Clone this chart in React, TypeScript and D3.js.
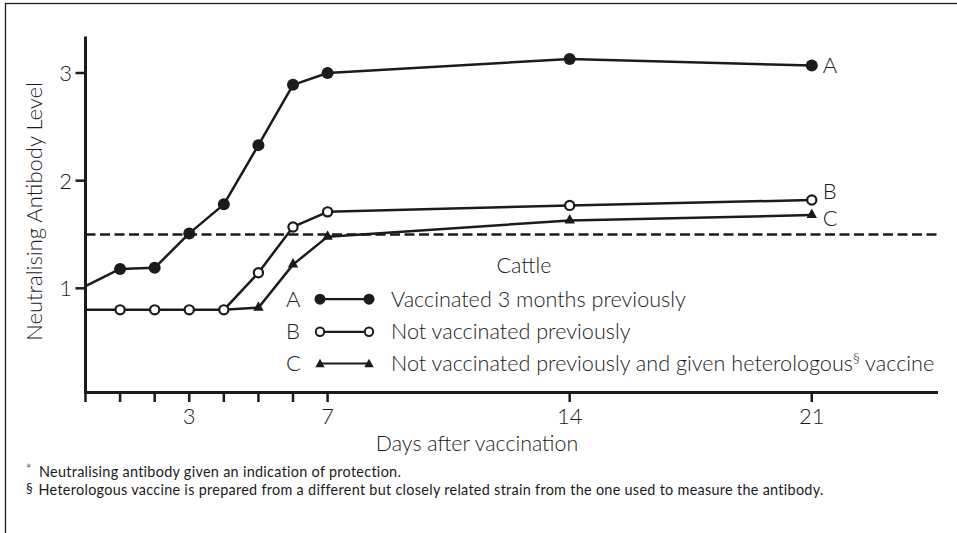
import React from "react";
import * as d3 from "d3";

const days = [0, 1, 2, 3, 4, 5, 6, 7, 14, 21];
const seriesA = [1.02, 1.18, 1.19, 1.51, 1.78, 2.33, 2.89, 3.0, 3.13, 3.07];
const seriesB = [0.8, 0.8, 0.8, 0.8, 0.8, 1.145, 1.57, 1.71, 1.77, 1.82];
const daysC = [4, 5, 6, 7, 14, 21];
const seriesC = [0.8, 0.82, 1.22, 1.48, 1.63, 1.68];
const protectionLevel = 1.5;
const xTickValues = [0, 1, 2, 3, 4, 5, 6, 7, 14, 21];
const xTickLabels = ["3", "7", "14", "21"];
const yTickValues = [1, 2, 3];
const legendTitle = "Cattle";
const legendKeys = ["A", "B", "C"];
const legendLabels = [
  "Vaccinated 3 months previously",
  "Not vaccinated previously",
  "Not vaccinated previously and given heterologous",
];
const yTitle = "Neutralising Antibody Level";
const xTitle = "Days after vaccination";
const footnote1 = "Neutralising antibody given an indication of protection.";
const footnote2 =
  "Heterologous vaccine is prepared from a different but closely related strain from the one used to measure the antibody.";

const W = 957;
const H = 533;
const FONT = "Lato, 'Open Sans', sans-serif";
const INK = "#1b1b1b";

const x = d3.scaleLinear().domain([0, 24.65]).range([85.5, 938]);
const y = d3.scaleLinear().domain([1, 3]).range([288.3, 73]);
const plotTop = 36.5;
const plotBottom = 392.5;

type Pt = { d: number; v: number };
const ptsA: Pt[] = days.map((d, i) => ({ d, v: seriesA[i] }));
const ptsB: Pt[] = days.map((d, i) => ({ d, v: seriesB[i] }));
const ptsC: Pt[] = daysC.map((d, i) => ({ d, v: seriesC[i] }));

const line = d3
  .line<Pt>()
  .x((p) => x(p.d))
  .y((p) => y(p.v));

function Tri({ cx, cy, s = 1 }: { cx: number; cy: number; s?: number }) {
  const w = 5.2 * s;
  const up = 6.5 * s;
  const dn = 3 * s;
  return (
    <path
      d={`M${cx},${cy - up}L${cx + w},${cy + dn}L${cx - w},${cy + dn}Z`}
      fill={INK}
    />
  );
}

export default function App() {
  const lastA = ptsA[ptsA.length - 1];
  const lastB = ptsB[ptsB.length - 1];
  const lastC = ptsC[ptsC.length - 1];
  const legX = 391;
  const legRows = [306.7, 339.3, 371];
  return (
    <svg
      width={W}
      height={H}
      style={{ position: "absolute", left: 0, top: 0, background: "#fff" }}
      fontFamily={FONT}
    >
      <rect x={5.5} y={3.5} width={1200} height={800} fill="none" stroke={INK} strokeWidth={1.3} />

      {/* axes */}
      <line x1={x(0)} x2={x(0)} y1={plotTop} y2={plotBottom} stroke={INK} strokeWidth={3} />
      <line x1={x(0) - 1.5} x2={938} y1={plotBottom} y2={plotBottom} stroke={INK} strokeWidth={3} />
      {yTickValues.map((t) => (
        <g key={"yt" + t}>
          <line x1={x(0) - 10} x2={x(0)} y1={y(t)} y2={y(t)} stroke={INK} strokeWidth={2.5} />
          <text
            x={72}
            y={y(t)}
            dy="0.36em"
            textAnchor="end"
            fontSize={22}
            fontWeight={300}
            fill={INK}
          >
            {String(t)}
          </text>
        </g>
      ))}
      {xTickValues.map((t) => (
        <line
          key={"xt" + t}
          x1={x(t)}
          x2={x(t)}
          y1={plotBottom}
          y2={plotBottom + 9.5}
          stroke={INK}
          strokeWidth={2.5}
        />
      ))}
      {xTickLabels.map((lab) => (
        <text
          key={"xl" + lab}
          x={x(+lab)}
          y={423.5}
          textAnchor="middle"
          fontSize={22}
          fontWeight={300}
          fill={INK}
        >
          {lab}
        </text>
      ))}
      <text x={477} y={450.5} textAnchor="middle" fontSize={21.3} fontWeight={300} fill={INK}>
        {xTitle}
      </text>
      <text
        transform={`translate(41.5, 211.5) rotate(-90)`}
        textAnchor="middle"
        fontSize={22}
        fontWeight={300}
        fill={INK}
      >
        {yTitle}
      </text>

      {/* protection level */}
      <line
        x1={x(0)}
        x2={937}
        y1={y(protectionLevel)}
        y2={y(protectionLevel)}
        stroke={INK}
        strokeWidth={2.5}
        strokeDasharray="10 4.5"
      />

      {/* series */}
      <path d={line(ptsC) || ""} fill="none" stroke={INK} strokeWidth={2.5} strokeLinejoin="round" />
      <path d={line(ptsB) || ""} fill="none" stroke={INK} strokeWidth={2.5} strokeLinejoin="round" />
      <path d={line(ptsA) || ""} fill="none" stroke={INK} strokeWidth={2.5} strokeLinejoin="round" />
      {ptsA.slice(1).map((p, i) => (
        <circle key={"a" + i} cx={x(p.d)} cy={y(p.v)} r={6} fill={INK} />
      ))}
      {ptsB.slice(1).map((p, i) => (
        <circle key={"b" + i} cx={x(p.d)} cy={y(p.v)} r={4.6} fill="#fff" stroke={INK} strokeWidth={2.2} />
      ))}
      {ptsC.slice(1).map((p, i) => (
        <Tri key={"c" + i} cx={x(p.d)} cy={y(p.v)} />
      ))}

      {/* end labels */}
      {[
        { k: "A", p: lastA, dy: 0 },
        { k: "B", p: lastB, dy: -9 },
        { k: "C", p: lastC, dy: 2.5 },
      ].map((o) => (
        <text
          key={"end" + o.k}
          x={x(o.p.d) + 11}
          y={y(o.p.v) + o.dy}
          dy="0.36em"
          fontSize={22}
          fontWeight={300}
          fill={INK}
        >
          {o.k}
        </text>
      ))}

      {/* legend */}
      <text x={524} y={273.3} textAnchor="middle" fontSize={21.5} fontWeight={300} fill={INK}>
        {legendTitle}
      </text>
      {legendKeys.map((k, i) => {
        const by = legRows[i];
        const cy = by - 7.5;
        return (
          <g key={"leg" + k}>
            <text x={286} y={by} fontSize={22} fontWeight={300} fill={INK}>
              {k}
            </text>
            <line x1={320} x2={369} y1={cy} y2={cy} stroke={INK} strokeWidth={2.2} />
            {i === 0 && (
              <>
                <circle cx={320} cy={cy} r={5.5} fill={INK} />
                <circle cx={369} cy={cy} r={5.5} fill={INK} />
              </>
            )}
            {i === 1 && (
              <>
                <circle cx={320} cy={cy} r={4.2} fill="#fff" stroke={INK} strokeWidth={2} />
                <circle cx={369} cy={cy} r={4.2} fill="#fff" stroke={INK} strokeWidth={2} />
              </>
            )}
            {i === 2 && (
              <>
                <Tri cx={320} cy={cy + 1} s={0.9} />
                <Tri cx={369} cy={cy + 1} s={0.9} />
              </>
            )}
            <text x={legX} y={by} fontSize={21.6} fontWeight={300} fill={INK}>
              {legendLabels[i]}
              {i === 2 && (
                <>
                  <tspan fontSize={14} dy={-8}>§</tspan>
                  <tspan dy={8}> vaccine</tspan>
                </>
              )}
            </text>
          </g>
        );
      })}

      {/* footnotes */}
      <text y={477.3} fontSize={14.4} fontWeight={400} fill={INK} letterSpacing={0.3}>
        <tspan x={25.5} dy={-2} fontSize={15} fontWeight={300}>*</tspan>
        <tspan x={39} dy={2}>{footnote1}</tspan>
      </text>
      <text y={494.6} fontSize={14.4} fontWeight={400} fill={INK} letterSpacing={0.3}>
        <tspan x={26} dy={-1.5} fontSize={13.5}>§</tspan>
        <tspan x={38.5} dy={1.5}>{footnote2}</tspan>
      </text>
    </svg>
  );
}
